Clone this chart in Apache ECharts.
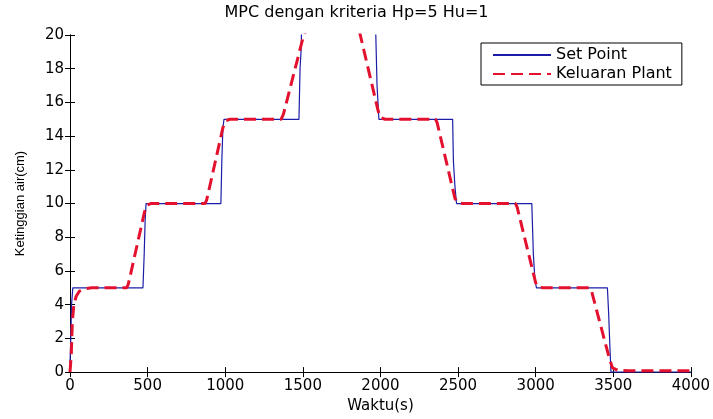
<!DOCTYPE html>
<html lang="en">
<head>
<meta charset="UTF-8" />
<title>MPC Hp=5 Hu=1</title>
</head>
<body>
<style>
* {
  margin: 0;
  padding: 0;
}
#chartEl {
  width: 713px;
  height: 419px;
  background-color: #fff;
}
</style>
<div id="chartEl"></div>
<script src="https://cdn.jsdelivr.net/npm/echarts@6/dist/echarts.min.js"></script>
<script>
// set point: [waktu (s), ketinggian (cm)]
const setPoint = [
  [0, 0.5], [5, 2], [10, 4], [18, 5],
  [470, 5], [478, 7], [484, 9], [490, 10],
  [972, 10], [978, 12.5], [985, 14.5], [992, 15],
  [1475, 15], [1482, 18], [1490, 19.3], [1497, 25],
  [1965, 25], [1970, 20], [1978, 17], [1990, 15],
  [2465, 15], [2470, 12.5], [2480, 11], [2490, 10],
  [2975, 10], [2985, 7], [2995, 5.5], [3005, 5],
  [3462, 5], [3470, 3.5], [3478, 1.5], [3485, 0],
  [4000, 0]
];
// keluaran plant
const plantOutput = [
  [0, 0], [8, 1], [15, 3], [25, 4], [40, 4.5], [60, 4.8], [100, 4.95], [140, 5],
  [365, 5], [375, 5.2], [390, 5.8], [480, 9.5], [495, 9.9], [520, 10],
  [870, 10], [880, 10.2], [895, 10.8], [985, 14.5], [1000, 14.9], [1030, 15],
  [1360, 15], [1375, 15.3], [1500, 19.8], [1520, 20.3], [1650, 24.8], [1700, 25],
  [1740, 25], [1750, 24.7], [1870, 20], [1985, 15.5], [2000, 15.1], [2030, 15],
  [2355, 15], [2365, 14.8], [2480, 10.3], [2500, 10.05], [2530, 10],
  [2870, 10], [2880, 9.8], [3000, 5.3], [3015, 5.05], [3050, 5],
  [3350, 5], [3360, 4.8], [3475, 0.8], [3495, 0.25], [3530, 0.1], [3600, 0.08],
  [4000, 0.08]
];
const xMin = 0, xMax = 4000, xStep = 500;
const yMin = 0, yMax = 20, yStep = 2;

const font = 'DejaVu Sans';

function boxAxis(extra) {
  return Object.assign({
    type: 'value',
    axisLine: { show: true, lineStyle: { color: '#000', width: 1 } },
    axisTick: { show: true, inside: true, length: 5, lineStyle: { color: '#000' } },
    splitLine: { show: false },
    axisLabel: { show: false },
  }, extra);
}

const chart = echarts.init(document.getElementById('chartEl'));
chart.setOption({
  animation: false,
  backgroundColor: '#fff',
  title: {
    text: 'MPC dengan kriteria Hp=5 Hu=1',
    left: 'center',
    top: 0,
    textStyle: { fontFamily: font, fontSize: 16, fontWeight: 'normal', color: '#000' },
  },
  legend: {
    left: 481,
    top: 43,
    orient: 'vertical',
    backgroundColor: '#fff',
    borderColor: '#000',
    borderWidth: 1,
    borderRadius: 0,
    padding: [4, 10, 3, 11],
    itemGap: 3,
    itemWidth: 58,
    itemHeight: 14,
    itemStyle: { opacity: 0 },
    textStyle: { fontFamily: font, fontSize: 16, color: '#000' },
    data: ['Set Point', 'Keluaran Plant'],
    selectedMode: false,
  },
  grid: { left: 70, right: 16, top: 35, bottom: 36 },
  xAxis: [
    boxAxis({
      min: xMin, max: xMax, interval: xStep,
      position: 'bottom',
      name: 'Waktu(s)',
      nameLocation: 'middle',
      nameGap: 23,
      nameTextStyle: { fontFamily: font, fontSize: 15, color: '#000', verticalAlign: 'top' },
      axisLabel: {
        show: true, margin: 7, fontFamily: font, fontSize: 15, color: '#000',
        formatter: v => String(v),
      },
    }),
    boxAxis({ min: xMin, max: xMax, interval: xStep, position: 'top' }),
  ],
  yAxis: [
    boxAxis({
      min: yMin, max: yMax, interval: yStep,
      position: 'left',
      name: 'Ketinggian air(cm)',
      nameLocation: 'middle',
      nameGap: 43,
      nameTextStyle: { fontFamily: 'Liberation Sans', fontSize: 13, color: '#000' },
      axisLabel: { show: true, margin: 6, fontFamily: font, fontSize: 15, color: '#000' },
    }),
    boxAxis({ min: yMin, max: yMax, interval: yStep, position: 'right' }),
  ],
  series: [
    {
      name: 'Set Point',
      type: 'line',
      data: setPoint,
      symbol: 'none',
      clip: true,
      z: 2,
      lineStyle: { color: '#1c1ca8', width: 1.2 },
      itemStyle: { color: '#1c1ca8' },
    },
    {
      name: 'Keluaran Plant',
      type: 'line',
      data: plantOutput,
      symbol: 'none',
      clip: true,
      z: 3,
      lineStyle: { color: '#e3102e', width: 3, type: [12, 6] },
      itemStyle: { color: '#e3102e' },
    },
  ],
});
</script>
</body>
</html>
